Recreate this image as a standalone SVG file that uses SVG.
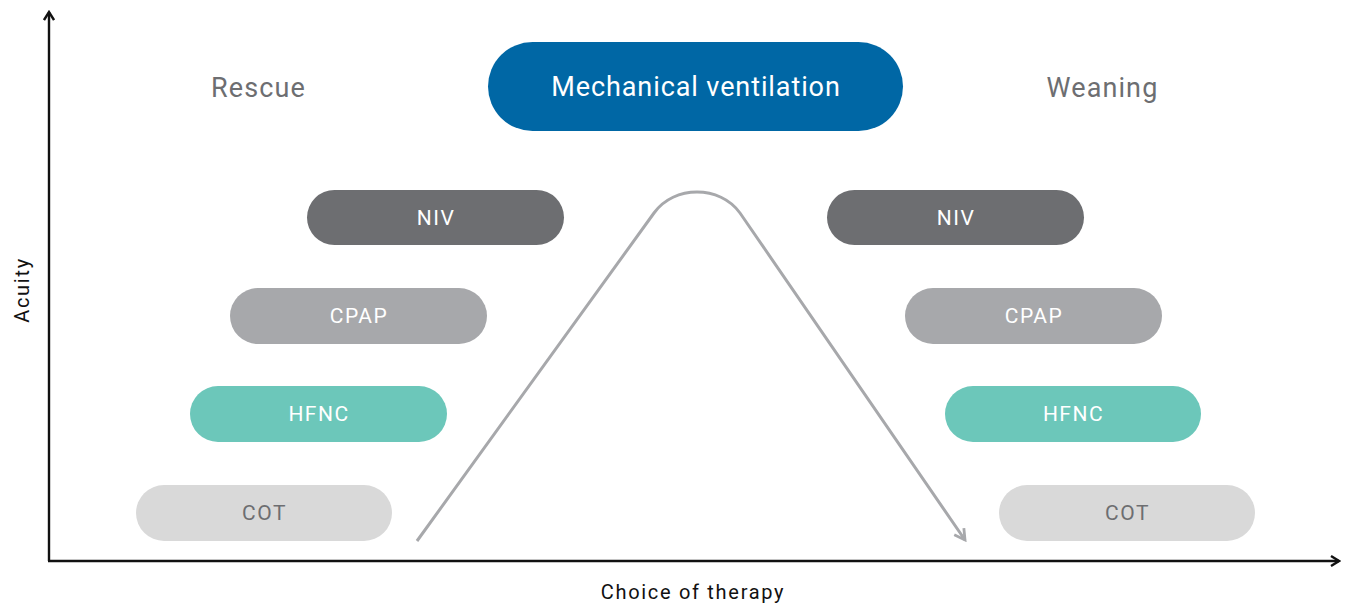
<svg xmlns="http://www.w3.org/2000/svg" width="1346" height="606" viewBox="0 0 1346 606">
<style>
text{font-family:Roboto,"Liberation Sans",sans-serif;text-anchor:middle;dominant-baseline:central}
.pl{font-size:21px;fill:#fff;letter-spacing:1.5px}
.hd{font-size:27px;fill:#6d6e71;letter-spacing:1.1px}
.ax{font-size:20px;fill:#111;letter-spacing:1.7px}
.niv{fill:#6d6e71}.cpap{fill:#a7a8ab}.hfnc{fill:#6cc7ba}.cot{fill:#d9d9d9}
</style>
<defs>
<marker id="ah" viewBox="0 0 12 12" refX="10" refY="6" markerWidth="12" markerHeight="12" markerUnits="userSpaceOnUse" orient="auto"><path d="M2,1 L10,6 L2,11" fill="none" stroke="#111" stroke-width="2.4"/></marker>
<marker id="gh" viewBox="0 0 12 12" refX="10" refY="6" markerWidth="14" markerHeight="14" markerUnits="userSpaceOnUse" orient="auto"><path d="M1,1 L10,6 L1,11" fill="none" stroke="#a7a8ab" stroke-width="2.4"/></marker>
</defs>
<g id="connectors">
<line x1="49" y1="561" x2="49" y2="12" stroke="#111" stroke-width="2.4" marker-end="url(#ah)"/>
<line x1="48" y1="561" x2="1339" y2="561" stroke="#111" stroke-width="2.4" marker-end="url(#ah)"/>
<path d="M417,541 L654,213 C674,185 720,185 740,213 L965,540" fill="none" stroke="#a7a8ab" stroke-width="3" marker-end="url(#gh)"/>
</g>
<g id="rescue"><text class="hd" x="258.5" y="88">Rescue</text></g>
<g id="weaning"><text class="hd" x="1102.5" y="88">Weaning</text></g>
<g id="mv"><rect x="488" y="42" width="415" height="89" rx="44.5" fill="#0067a5"/><text x="696" y="87" style="font-size:27px;fill:#fff;letter-spacing:0.9px">Mechanical ventilation</text></g>
<g id="niv-l"><rect class="niv" x="307" y="190" width="257" height="55" rx="27.5"/><text class="pl" x="436" y="217.5">NIV</text></g>
<g id="cpap-l"><rect class="cpap" x="230" y="288" width="257" height="56" rx="28"/><text class="pl" x="359" y="316">CPAP</text></g>
<g id="hfnc-l"><rect class="hfnc" x="190" y="386" width="257" height="56" rx="28"/><text class="pl" x="319" y="414">HFNC</text></g>
<g id="cot-l"><rect class="cot" x="136" y="485" width="256" height="56" rx="28"/><text class="pl" x="264.5" y="513" style="fill:#6d6e71">COT</text></g>
<g id="niv-r"><rect class="niv" x="827" y="190" width="257" height="55" rx="27.5"/><text class="pl" x="956" y="217.5">NIV</text></g>
<g id="cpap-r"><rect class="cpap" x="905" y="288" width="257" height="56" rx="28"/><text class="pl" x="1034" y="316">CPAP</text></g>
<g id="hfnc-r"><rect class="hfnc" x="945" y="386" width="256" height="56" rx="28"/><text class="pl" x="1073.5" y="414">HFNC</text></g>
<g id="cot-r"><rect class="cot" x="999" y="485" width="256" height="56" rx="28"/><text class="pl" x="1127.5" y="513" style="fill:#6d6e71">COT</text></g>
<g id="acuity"><text class="ax" transform="translate(22,290) rotate(-90)">Acuity</text></g>
<g id="choice"><text class="ax" x="693" y="592">Choice of therapy</text></g>
</svg>
